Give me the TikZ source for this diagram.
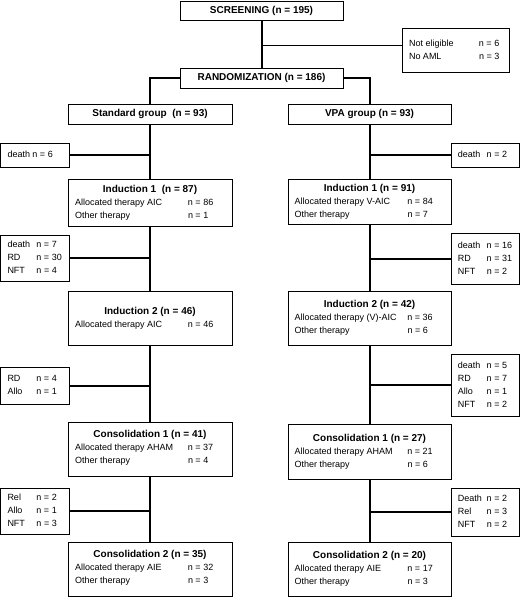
\documentclass[tikz,border=0pt]{standalone}
\usepackage{fontspec}
\setmainfont{Liberation Sans}
\usepackage{array}
\newcommand{\hd}[1]{\multicolumn{2}{@{}c@{}}{\fontsize{10}{13}\selectfont\bfseries #1}}
\newcommand{\bt}[1]{{\fontsize{10}{13}\selectfont\bfseries #1}}
\begin{document}
\begin{tikzpicture}[x=1pt,y=-1pt,
  box/.style={draw, line width=1pt, inner sep=0pt, outer sep=0pt, font=\fontsize{9}{13}\selectfont},
  thick line/.style={line width=2pt},
  thin line/.style={line width=0.9pt}]
\useasboundingbox (0,0) rectangle (520,597);
% top
\node[box, minimum width=163pt, minimum height=19pt] (screen) at (261.5,10.5) {\bt{SCREENING (n = 195)}};
\node[box, minimum width=107pt, minimum height=44pt] (noteli) at (455.5,50) {\begin{tabular}{@{}p{70pt}@{}p{23pt}@{}}Not eligible & n = 6\\ No AML & n = 3\end{tabular}};
\node[box, minimum width=163pt, minimum height=20pt] (rand) at (261.5,78) {\bt{RANDOMIZATION (n = 186)}};
\node[box, minimum width=164pt, minimum height=20pt] (std) at (150,114) {\bt{Standard group\ \ (n = 93)}};
\node[box, minimum width=163pt, minimum height=20pt] (vpa) at (369.5,114) {\bt{VPA group (n = 93)}};
% left column
\node[box, minimum width=69pt, minimum height=24pt] (dl1) at (35,155) {\begin{tabular}{@{}p{25pt}@{}p{30pt}@{}}death & n = 6\end{tabular}};
\node[box, minimum width=164pt, minimum height=47pt] (L1) at (150,202.5) {\begin{tabular}{@{}p{113pt}@{}p{37pt}@{}}\hd{Induction 1\ \ (n = 87)}\\ Allocated therapy AIC & n = 86\\ Other therapy & n = 1\end{tabular}};
\node[box, minimum width=69pt, minimum height=46pt] (dl2) at (35,258) {\begin{tabular}{@{}p{29pt}@{}p{26pt}@{}}death & n = 7\\ RD & n = 30\\ NFT & n = 4\end{tabular}};
\node[box, minimum width=164pt, minimum height=54pt] (L2) at (150,318) {\begin{tabular}{@{}p{113pt}@{}p{37pt}@{}}\hd{Induction 2 (n = 46)}\\ Allocated therapy AIC & n = 46\end{tabular}};
\node[box, minimum width=69pt, minimum height=37pt] (dl3) at (35,385.5) {\begin{tabular}{@{}p{29pt}@{}p{26pt}@{}}RD & n = 4\\ Allo & n = 1\end{tabular}};
\node[box, minimum width=164pt, minimum height=54pt] (L3) at (150,449) {\begin{tabular}{@{}p{113pt}@{}p{37pt}@{}}\hd{Consolidation 1 (n = 41)}\\ Allocated therapy AHAM & n = 37\\ Other therapy & n = 4\\[3pt]\end{tabular}};
\node[box, minimum width=69pt, minimum height=46pt] (dl4) at (35,511) {\begin{tabular}{@{}p{29pt}@{}p{26pt}@{}}Rel & n = 2\\ Allo & n = 1\\ NFT & n = 3\end{tabular}};
\node[box, minimum width=164pt, minimum height=54pt] (L4) at (150,569) {\begin{tabular}{@{}p{113pt}@{}p{37pt}@{}}\hd{Consolidation 2 (n = 35)}\\ Allocated therapy AIE & n = 32\\ Other therapy & n = 3\\[3pt]\end{tabular}};
% right column
\node[box, minimum width=68.5pt, minimum height=24pt] (dr1) at (485.25,155) {\begin{tabular}{@{}p{29pt}@{}p{26pt}@{}}death & n = 2\end{tabular}};
\node[box, minimum width=163pt, minimum height=45pt] (R1) at (369.5,201.5) {\begin{tabular}{@{}p{113pt}@{}p{37pt}@{}}\hd{Induction 1 (n = 91)}\\ Allocated therapy V-AIC & n = 84\\ Other therapy & n = 7\end{tabular}};
\node[box, minimum width=68.5pt, minimum height=51pt] (dr2) at (485.25,258.5) {\begin{tabular}{@{}p{29pt}@{}p{26pt}@{}}death & n = 16\\ RD & n = 31\\ NFT & n = 2\end{tabular}};
\node[box, minimum width=163pt, minimum height=54pt] (R2) at (369.5,318) {\begin{tabular}{@{}p{113pt}@{}p{37pt}@{}}\hd{Induction 2 (n = 42)}\\ Allocated therapy (V)-AIC & n = 36\\ Other therapy & n = 6\end{tabular}};
\node[box, minimum width=68.5pt, minimum height=62pt] (dr3) at (485.25,385) {\begin{tabular}{@{}p{29pt}@{}p{26pt}@{}}death & n = 5\\ RD & n = 7\\ Allo & n = 1\\ NFT & n = 2\end{tabular}};
\node[box, minimum width=163pt, minimum height=55pt] (R3) at (369.5,451.5) {\begin{tabular}{@{}p{113pt}@{}p{37pt}@{}}\hd{Consolidation 1 (n = 27)}\\ Allocated therapy AHAM & n = 21\\ Other therapy & n = 6\end{tabular}};
\node[box, minimum width=68.5pt, minimum height=48pt] (dr4) at (485.25,512) {\begin{tabular}{@{}p{29pt}@{}p{26pt}@{}}Death & n = 2\\ Rel & n = 3\\ NFT & n = 2\end{tabular}};
\node[box, minimum width=163pt, minimum height=54pt] (R4) at (369.5,569) {\begin{tabular}{@{}p{113pt}@{}p{37pt}@{}}\hd{Consolidation 2 (n = 20)}\\ Allocated therapy AIE & n = 17\\ Other therapy & n = 3\end{tabular}};
% connectors
\draw[thick line] (screen.south) -- (rand.north);
\draw[thin line] ([yshift=4.5pt]noteli.west) -- ([yshift=4.5pt]noteli.west -| screen.south);
\draw[thick line] (rand.west) -| (std.north);
\draw[thick line] (rand.east) -| (vpa.north);
\draw[thick line] (std.south) -- (L1.north);
\draw[thick line] (L1.south) -- (L2.north);
\draw[thick line] (L2.south) -- (L3.north);
\draw[thick line] (L3.south) -- (L4.north);
\draw[thick line] (vpa.south) -- (R1.north);
\draw[thick line] (R1.south) -- (R2.north);
\draw[thick line] (R2.south) -- (R3.north);
\draw[thick line] (R3.south) -- (R4.north);
\draw[thick line] (dl1.east) -- (dl1.east -| std.south);
\draw[thick line] (dl2.east) -- (dl2.east -| L1.south);
\draw[thick line] (dl3.east) -- (dl3.east -| L2.south);
\draw[thick line] (dl4.east) -- (dl4.east -| L3.south);
\draw[thick line] (dr1.west) -- (dr1.west -| vpa.south);
\draw[thick line] (dr2.west) -- (dr2.west -| R1.south);
\draw[thick line] (dr3.west) -- (dr3.west -| R2.south);
\draw[thick line] (dr4.west) -- (dr4.west -| R3.south);
\end{tikzpicture}
\end{document}
